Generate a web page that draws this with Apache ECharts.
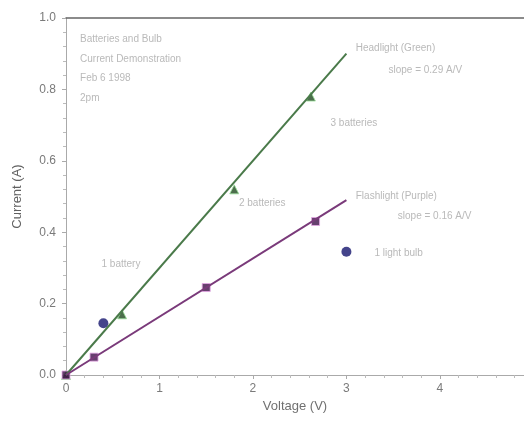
<!DOCTYPE html>
<html>
<head>
<meta charset="utf-8">
<script src="https://cdn.jsdelivr.net/npm/echarts@6/dist/echarts.min.js"></script>
<style>
  html, body { margin: 0; padding: 0; background: #fff; }
  #chart { width: 524px; height: 427px; }
</style>
</head>
<body>
<div id="chart"></div>
<script>
// measured points (voltage V, current A)
const headlightPts = [[0, 0], [0.6, 0.17], [1.8, 0.52], [2.62, 0.78]];
const headlightFit = [[0, 0], [3.0, 0.9]];
const flashlightPts = [[0, 0], [0.3, 0.05], [1.5, 0.245], [2.67, 0.43]];
const flashlightFit = [[0, 0], [3.0, 0.49]];
const bulbPts = [[0.4, 0.145], [3.0, 0.345]];

const xTicks = [0, 1, 2, 3, 4];
const yTicks = [0, 0.2, 0.4, 0.6, 0.8, 1.0];

// annotation text anchored in data coordinates
const notes = [
  { value: [0.15, 0.94], text: 'Batteries and Bulb' },
  { value: [0.15, 0.885], text: 'Current Demonstration' },
  { value: [0.15, 0.83], text: 'Feb 6 1998' },
  { value: [0.15, 0.775], text: '2pm' },
  { value: [3.1, 0.915], text: 'Headlight (Green)' },
  { value: [3.45, 0.855], text: 'slope = 0.29 A/V' },
  { value: [2.83, 0.705], text: '3 batteries' },
  { value: [1.85, 0.48], text: '2 batteries' },
  { value: [3.1, 0.5], text: 'Flashlight (Purple)' },
  { value: [3.55, 0.445], text: 'slope = 0.16 A/V' },
  { value: [3.3, 0.34], text: '1 light bulb' },
  { value: [0.38, 0.31], text: '1 battery' }
];

const chart = echarts.init(document.getElementById('chart'));
const txt = '#7a7a7a';
chart.setOption({
  animation: false,
  textStyle: { fontFamily: 'Liberation Sans, Arial, sans-serif' },
  grid: { left: 66, right: 0, top: 18, bottom: 52 },
  xAxis: [{
    type: 'value', min: 0, max: 4.9, interval: 1,
    name: 'Voltage (V)', nameLocation: 'middle', nameGap: 22,
    nameTextStyle: { color: '#707070', fontSize: 13 },
    axisLine: { show: true, lineStyle: { color: '#aaa' } },
    axisTick: { show: true, length: 4, lineStyle: { color: '#aaa' } },
    minorTick: { show: true, splitNumber: 5, length: 3, lineStyle: { color: '#bbb' } },
    axisLabel: { color: txt, fontSize: 12, showMaxLabel: false },
    splitLine: { show: false }
  }, {
    type: 'value', position: 'top', min: 0, max: 4.9,
    axisLine: { show: true, lineStyle: { color: '#666', width: 1.5 } },
    axisTick: { show: false }, axisLabel: { show: false }, splitLine: { show: false }
  }],
  yAxis: {
    type: 'value', min: 0, max: 1.0, interval: 0.2,
    name: 'Current (A)', nameLocation: 'middle', nameGap: 42,
    nameTextStyle: { color: '#606060', fontSize: 13 },
    axisLine: { show: true, lineStyle: { color: '#aaa' } },
    axisTick: { show: true, length: 4, lineStyle: { color: '#aaa' } },
    minorTick: { show: true, splitNumber: 5, length: 3, lineStyle: { color: '#bbb' } },
    axisLabel: { color: txt, fontSize: 12, margin: 10, formatter: v => v.toFixed(1) },
    splitLine: { show: false }
  },
  series: [
    {
      type: 'line', data: headlightFit, symbol: 'none',
      lineStyle: { color: '#4a7a4a', width: 2 }
    },
    {
      type: 'line', data: flashlightFit, symbol: 'none',
      lineStyle: { color: '#7a3a7a', width: 2 }
    },
    {
      type: 'scatter', data: headlightPts, symbol: 'triangle', symbolSize: 9,
      itemStyle: { color: '#1f4a1f', borderColor: '#9be09b', borderWidth: 1 }
    },
    {
      type: 'scatter', data: flashlightPts, symbol: 'rect', symbolSize: 8,
      itemStyle: { color: '#40104a', borderColor: '#e6a8e6', borderWidth: 1 }
    },
    {
      type: 'scatter', data: bulbPts, symbol: 'circle', symbolSize: 10,
      itemStyle: { color: '#15156e' }
    },
    {
      type: 'scatter', symbolSize: 0, silent: true,
      data: notes.map(n => ({ value: n.value, name: n.text })),
      label: {
        show: true, position: 'right', distance: 0,
        formatter: p => p.name, color: '#a8a8a8', fontSize: 10
      }
    }
  ]
});
</script>
</body>
</html>
